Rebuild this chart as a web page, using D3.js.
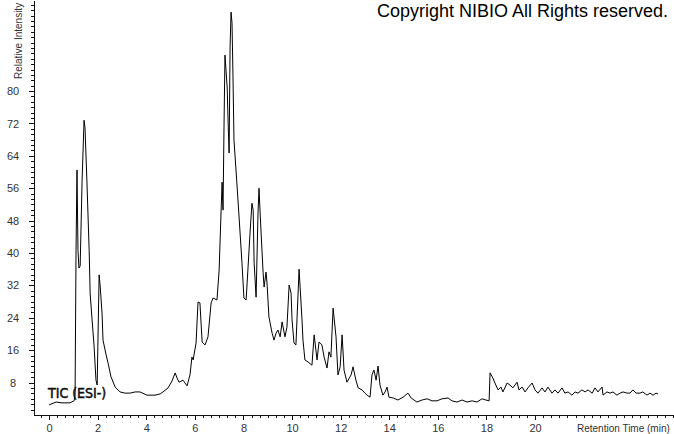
<!DOCTYPE html>
<html>
  <head>
    <meta charset="utf-8">
    <title>TIC (ESI-)</title>
    <script src="https://d3js.org/d3.v7.min.js"></script>
    <style>
      body { margin: 0; background: #fff; }
      svg { display: block; font-family: "Liberation Sans", Arial, sans-serif; }
      .axis path, .axis line { stroke: #111; shape-rendering: crispEdges; }
      .axis text { fill: #333; font-size: 11px; font-family: "Liberation Sans", Arial, sans-serif; }
      .trace { fill: none; stroke: #000; stroke-width: 1; }
    </style>
  </head>
  <body>
    <svg id="chart" width="674" height="434"></svg>
    <script>
      // retention time (min) and relative intensity
      var time = [0.00, 0.29, 0.53, 0.86, 1.03, 1.07, 1.11, 1.15, 1.19, 1.23, 1.28, 1.36, 1.44, 1.48, 1.56,
        1.65, 1.69, 1.77, 1.85, 1.93, 1.98, 2.02, 2.06, 2.10, 2.18, 2.22, 2.35, 2.43, 2.55, 2.72, 2.92,
        3.13, 3.33, 3.54, 3.74, 4.03, 4.36, 4.57, 4.69, 4.90, 5.06, 5.19, 5.27, 5.35, 5.51, 5.68, 5.80,
        5.88, 5.93, 6.05, 6.13, 6.21, 6.30, 6.42, 6.54, 6.67, 6.75, 6.91, 7.00, 7.04, 7.12, 7.16, 7.20,
        7.24, 7.33, 7.37, 7.41, 7.45, 7.49, 7.53, 7.57, 7.61, 7.74, 7.82, 7.94, 8.02, 8.11, 8.19, 8.27,
        8.35, 8.40, 8.44, 8.52, 8.60, 8.64, 8.72, 8.81, 8.85, 8.93, 8.97, 9.05, 9.18, 9.26, 9.34, 9.42,
        9.51, 9.59, 9.71, 9.79, 9.88, 9.96, 10.00, 10.08, 10.16, 10.29, 10.41, 10.45, 10.53, 10.66, 10.82,
        10.91, 11.03, 11.11, 11.23, 11.32, 11.44, 11.52, 11.60, 11.69, 11.81, 11.89, 11.98, 12.06, 12.14,
        12.26, 12.43, 12.51, 12.63, 12.72, 12.88, 13.00, 13.09, 13.21, 13.29, 13.37, 13.46, 13.54, 13.62,
        13.74, 13.83, 13.91, 13.99, 14.16, 14.36, 14.57, 14.77, 14.90, 15.14, 15.35, 15.56, 15.76, 15.97,
        16.17, 16.42, 16.58, 16.79, 17.00, 17.20, 17.41, 17.61, 17.82, 17.98, 18.11, 18.15, 18.27, 18.35,
        18.48, 18.60, 18.68, 18.85, 18.97, 19.09, 19.26, 19.34, 19.47, 19.59, 19.71, 19.88, 20.00, 20.12,
        20.29, 20.41, 20.53, 20.70, 20.82, 20.95, 21.11, 21.23, 21.36, 21.52, 21.65, 21.77, 21.93, 22.06,
        22.18, 22.35, 22.47, 22.59, 22.76, 22.80, 22.96, 23.09, 23.21, 23.37, 23.50, 23.62, 23.79, 23.91,
        24.03, 24.16, 24.32, 24.44, 24.61, 24.73, 24.86, 24.98, 25.06];
      var intensity = [2.5, 3.2, 3.0, 3.0, 3.5, 4.9, 40.7, 60.5, 40.7, 36.3, 36.8, 58.0, 72.8, 70.9, 57.3,
        40.7, 30.1, 23.5, 17.3, 8.6, 7.4, 21.0, 34.6, 32.1, 25.2, 18.5, 14.8, 12.8, 9.4, 6.9, 5.7,
        5.4, 5.4, 5.7, 5.7, 4.9, 4.9, 5.2, 5.7, 6.7, 8.4, 10.4, 9.1, 8.1, 8.6, 7.2, 9.9,
        14.3, 13.6, 17.8, 27.9, 27.7, 18.0, 17.3, 19.3, 27.7, 28.9, 28.4, 35.8, 43.2, 57.5, 50.6, 71.1,
        88.9, 81.0, 72.1, 64.7, 90.9, 99.5, 96.8, 83.5, 67.9, 56.3, 48.9, 37.5, 28.9, 28.4, 36.5, 44.9,
        52.3, 50.6, 37.5, 29.1, 49.9, 56.0, 45.7, 35.1, 31.6, 35.3, 32.6, 24.2, 20.2, 18.5, 20.2, 21.0,
        19.3, 23.0, 19.3, 21.7, 32.1, 30.1, 23.5, 17.8, 17.3, 36.0, 23.5, 18.5, 13.6, 13.1, 12.3,
        19.8, 13.6, 18.0, 17.3, 14.3, 11.6, 15.6, 14.3, 26.4, 19.3, 9.9, 11.9, 19.8, 11.1,
        8.1, 9.9, 11.9, 8.6, 6.7, 6.2, 5.4, 4.9, 4.4, 9.9, 11.1, 8.6, 12.1, 7.4,
        4.9, 5.7, 6.9, 4.4, 4.2, 3.7, 4.4, 5.4, 4.2, 3.2, 3.7, 4.0, 3.5, 3.5,
        4.0, 4.2, 3.5, 3.2, 3.7, 3.2, 3.5, 3.2, 4.0, 3.7, 3.5, 10.4, 9.1, 7.9,
        6.2, 6.9, 5.7, 7.9, 7.4, 6.7, 8.1, 6.2, 6.9, 5.7, 6.7, 7.9, 6.2, 5.4,
        6.7, 5.7, 6.9, 5.4, 6.2, 5.4, 6.7, 5.4, 5.7, 4.9, 5.7, 5.4, 6.2, 5.7,
        6.2, 5.4, 6.7, 5.7, 6.9, 4.9, 5.7, 5.4, 5.7, 4.9, 5.4, 5.7, 5.4, 5.4,
        6.2, 5.4, 5.4, 5.7, 4.9, 5.4, 4.9, 5.4, 5.2];
      var xTicks = [0, 2, 4, 6, 8, 10, 12, 14, 16, 18, 20];
      var yTicks = [8, 16, 24, 32, 40, 48, 56, 64, 72, 80];

      var svg = d3.select("#chart");
      var width = 674, height = 434;
      var margin = { top: 0, right: 0, bottom: 19, left: 34 };

      svg.append("rect").attr("width", width).attr("height", height).attr("fill", "#fff");

      var x = d3.scaleLinear()
        .domain([-0.62, 25.72])
        .range([margin.left, width - margin.right]);
      var y = d3.scaleLinear()
        .domain([0, 102.5])
        .range([height - margin.bottom, margin.top]);

      // minor ticks every third of a major step
      var xMinor = d3.range(-1, 78).map(function(i) { return i * 2 / 6; })
        .filter(function(d) { return d >= x.domain()[0] && d <= x.domain()[1]; });
      var yMinor = d3.range(0, 77).map(function(i) { return i * 8 / 6; })
        .filter(function(d) { return d > 0 && d <= y.domain()[1]; });

      var xAxisG = svg.append("g")
        .attr("class", "axis")
        .attr("transform", "translate(0," + y(0) + ")");
      xAxisG.call(d3.axisBottom(x).tickValues(xMinor).tickSize(3).tickFormat("").tickSizeOuter(0));
      xAxisG.append("g")
        .call(d3.axisBottom(x).tickValues(xTicks).tickSize(5).tickPadding(4).tickFormat(d3.format("d")))
        .call(function(g) { g.select(".domain").remove(); });

      var yAxisG = svg.append("g")
        .attr("class", "axis")
        .attr("transform", "translate(" + margin.left + ",0)");
      yAxisG.call(d3.axisLeft(y).tickValues(yMinor).tickSize(3).tickFormat("").tickSizeOuter(0));
      yAxisG.append("g")
        .call(d3.axisLeft(y).tickValues(yTicks).tickSize(5).tickFormat(d3.format("d")))
        .call(function(g) {
          g.select(".domain").remove();
          g.selectAll("text").attr("x", -21).attr("text-anchor", "middle");
        });

      svg.append("text")
        .attr("x", 577)
        .attr("y", y(0) + 17)
        .attr("font-size", 10)
        .attr("fill", "#333")
        .text("Retention Time (min)");

      svg.append("text")
        .attr("transform", "translate(22,79) rotate(-90)")
        .attr("font-size", 10)
        .attr("fill", "#333")
        .text("Relative Intensity");

      // chromatogram trace
      var points = time.map(function(t, i) { return [t, intensity[i]]; });
      var line = d3.line()
        .x(function(d) { return x(d[0]); })
        .y(function(d) { return y(d[1]); });
      svg.append("path")
        .datum(points)
        .attr("class", "trace")
        .attr("d", line);

      svg.append("text")
        .attr("x", 48)
        .attr("y", 398)
        .attr("font-family", "'DejaVu Sans Condensed', 'DejaVu Sans', sans-serif")
        .attr("font-size", 14)
        .attr("fill", "#111")
        .attr("stroke", "#111")
        .attr("stroke-width", 0.5)
        .text("TIC (ESI-)");

      svg.append("text")
        .attr("x", 377)
        .attr("y", 17)
        .attr("font-size", 18)
        .attr("fill", "#000")
        .text("Copyright NIBIO All Rights reserved.");
    </script>
  </body>
</html>
